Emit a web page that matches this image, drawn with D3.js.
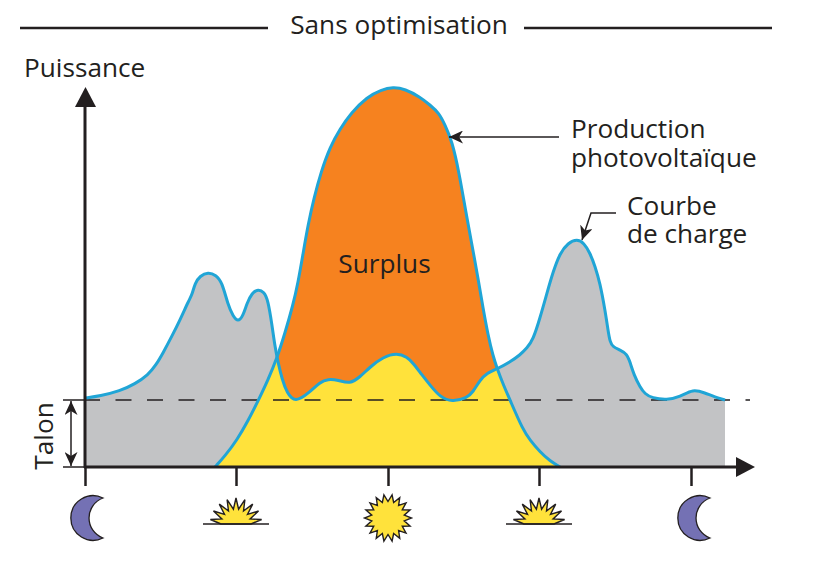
<!DOCTYPE html>
<html><head><meta charset="utf-8">
<script src="https://cdn.jsdelivr.net/npm/d3@7"></script>
<style>html,body{margin:0;background:#fff}text{font-family:"Open Sans",sans-serif;fill:#231f20}</style>
</head><body><svg id="c" width="827" height="572"></svg>
<script>
// Time and power in arbitrary schematic units
const loadTime=[0,15,35,50,63,71,78,87,95,104,107,110,115,123,131,137,143,148,153,158,162,167,173,179,183,187,190,193,197,202,210,225,235,243,253,265,275,285,298,312,322,328,337,345,355,367,382,388,395,402,412,425,435,442,448,455,462,468,475,483,492,499,505,510,515,520,523,525,528,535,542,545,549,555,560,567,582,595,608,620,630,640];
const loadValue=[69,71,76,83,92,102,114,131,147,167,172,184,191,195,192,185,162,151,145,151,164,174,178,175,167,142,120,105,88,74,64,75,85,88,87,83,90,100,110,114,110,104,92,82,70,65,69,75,87,94,98,105,112,119,127,149,174,195,214,224,228,224,214,201,184,157,137,125,120,117,113,105,92,80,73,69,67,70,78,74,70,67];
const pvTime=[130,140,152,163,173,183,192,200,208,213,218,223,229,236,245,255,266,282,296,308,320,335,345,354,360,367,374,381,387,393,398,403,408,412,418,425,438,445,455,465,475];
const pvValue=[0,11,27,46,66,87,109,134,162,184,213,242,269,295,320,338,354,370,377,380,378,370,362,354,342,326,295,254,222,189,159,132,111,99,83,67,37,27,15,6,0];
const tickTimes=[0,151,303,454,606];
const talon=67;
const titleText="Sans optimisation",yLabel="Puissance",surplusLabel="Surplus",talonLabel="Talon";
const prodLabel=["Production","photovoltaïque"],chargeLabel=["Courbe","de charge"];
const colors={grey:"#c2c3c5",orange:"#f6821f",yellow:"#ffe23b",line:"#20a5d6",ink:"#231f20",moon:"#7471b4",sun:"#ffe23b"};

const svg=d3.select("#c");
const x=d3.scaleLinear().domain([0,640]).range([85,725]);
const y=d3.scaleLinear().domain([0,380]).range([467,87]);
const load=loadTime.map((t,i)=>[t,loadValue[i]]);
const pv=pvTime.map((t,i)=>[t,pvValue[i]]);
const curve=d3.curveBasis;
const area=d3.area().x(d=>x(d[0])).y0(y(0)).y1(d=>y(d[1])).curve(curve);
const line=d3.line().x(d=>x(d[0])).y(d=>y(d[1])).curve(curve);

const defs=svg.append("defs");
defs.append("clipPath").attr("id","pvClip").append("path").attr("d",area(pv));
function marker(id,w,h){defs.append("marker").attr("id",id).attr("viewBox",`0 -${h} ${w} ${2*h}`).attr("refX",w).attr("markerWidth",w).attr("markerHeight",2*h).attr("markerUnits","userSpaceOnUse").attr("orient","auto-start-reverse").append("path").attr("d",`M0,-${h}L${w},0L0,${h}L${w*0.28},0Z`).attr("fill",colors.ink);}
marker("arrowSmall",14,6.5);

svg.append("path").attr("d",area(load)).attr("fill",colors.grey);
svg.append("path").attr("d",area(pv)).attr("fill",colors.orange);
svg.append("path").attr("d",area(load)).attr("fill",colors.yellow).attr("clip-path","url(#pvClip)");

svg.append("line").attr("x1",x(-1)).attr("x2",x(665)).attr("y1",y(talon)).attr("y2",y(talon)).attr("stroke",colors.ink).attr("stroke-width",1.6).attr("stroke-dasharray","16 15.5");
svg.append("line").attr("x1",63).attr("x2",x(0)).attr("y1",y(talon)).attr("y2",y(talon)).attr("stroke",colors.ink).attr("stroke-width",1.5);
svg.append("line").attr("x1",63).attr("x2",x(0)).attr("y1",y(0)).attr("y2",y(0)).attr("stroke",colors.ink).attr("stroke-width",1.5);

svg.append("path").attr("d",line(load)).attr("fill","none").attr("stroke",colors.line).attr("stroke-width",3);
svg.append("path").attr("d",line(pv)).attr("fill","none").attr("stroke",colors.line).attr("stroke-width",3);

// axes
const xAxis=svg.append("g").attr("transform",`translate(0,${y(0)})`).call(d3.axisBottom(x).tickValues(tickTimes).tickSize(19).tickSizeOuter(0).tickFormat(""));
xAxis.select(".domain").remove();
xAxis.selectAll(".tick line").attr("stroke",colors.ink).attr("stroke-width",2.5);
const ax=(a,b,c,d)=>svg.append("line").attr("x1",a).attr("y1",b).attr("x2",c).attr("y2",d).attr("stroke",colors.ink).attr("stroke-width",3);
ax(84,y(0),738,y(0));ax(x(0),y(0)+1,x(0),104);
svg.append("path").attr("d",`M736,457L755,467L736,477Z`).attr("fill",colors.ink);
svg.append("path").attr("d",`M75,107L85.5,87L96,107Z`).attr("fill",colors.ink);

// talon arrow
svg.append("line").attr("x1",71).attr("x2",71).attr("y1",401).attr("y2",466).attr("stroke",colors.ink).attr("stroke-width",1.5).attr("marker-start","url(#arrowSmall)").attr("marker-end","url(#arrowSmall)");

// title rules
[[20,268],[524,772]].forEach(r=>svg.append("line").attr("x1",r[0]).attr("x2",r[1]).attr("y1",28).attr("y2",28).attr("stroke",colors.ink).attr("stroke-width",2.6));

const FS=26.2;
const label=(t,px,py,anchor)=>svg.append("text").attr("x",px).attr("y",py).attr("font-size",FS).attr("text-anchor",anchor||"start").text(t);
label(titleText,399,34,"middle");
label(yLabel,24,77);
label(surplusLabel,384.5,273,"middle");
label(prodLabel[0],571,138);label(prodLabel[1],571,167);
label(chargeLabel[0],627,215);label(chargeLabel[1],627,243);
svg.append("text").attr("transform","translate(53,436) rotate(-90)").attr("font-size",FS).attr("text-anchor","middle").text(talonLabel);

// leader arrows
svg.append("line").attr("x1",559).attr("y1",137).attr("x2",449).attr("y2",137).attr("stroke",colors.ink).attr("stroke-width",1.5).attr("marker-end","url(#arrowSmall)");
svg.append("path").attr("d","M616,213L591,213L582,240").attr("fill","none").attr("stroke",colors.ink).attr("stroke-width",1.5).attr("marker-end","url(#arrowSmall)");

// icons
function star(cx,cy,R,r,n,a0,a1){const pts=[];for(let i=0;i<=2*n;i++){const a=a0+(a1-a0)*i/(2*n);const rad=i%2?R:r;pts.push([cx+rad*Math.sin(a),cy-rad*Math.cos(a)]);}return pts;}
const sunPts=star(388,518,23.5,16.5,18,0,2*Math.PI);
svg.append("path").attr("d",d3.line()(sunPts)+"Z").attr("fill",colors.sun).attr("stroke",colors.ink).attr("stroke-width",1.4);
[236,539].forEach(cx=>{
 const p=star(cx,524,26,15,9,-Math.PI/2,Math.PI/2).map(q=>[q[0],Math.min(q[1],524)]);
 svg.append("path").attr("d",d3.line()(p)+"Z").attr("fill",colors.sun).attr("stroke",colors.ink).attr("stroke-width",1.4);
 svg.append("line").attr("x1",cx-33).attr("x2",cx+33).attr("y1",524).attr("y2",524).attr("stroke",colors.ink).attr("stroke-width",1.4);
});
[0,607].forEach(dx=>svg.append("path").attr("transform",`translate(${dx},0)`).attr("d","M103,498A22.3,22.3 0 1 0 103,538A21.3,21.3 0 0 1 103,498Z").attr("fill",colors.moon).attr("stroke",colors.ink).attr("stroke-width",1.3));
</script></body></html>
